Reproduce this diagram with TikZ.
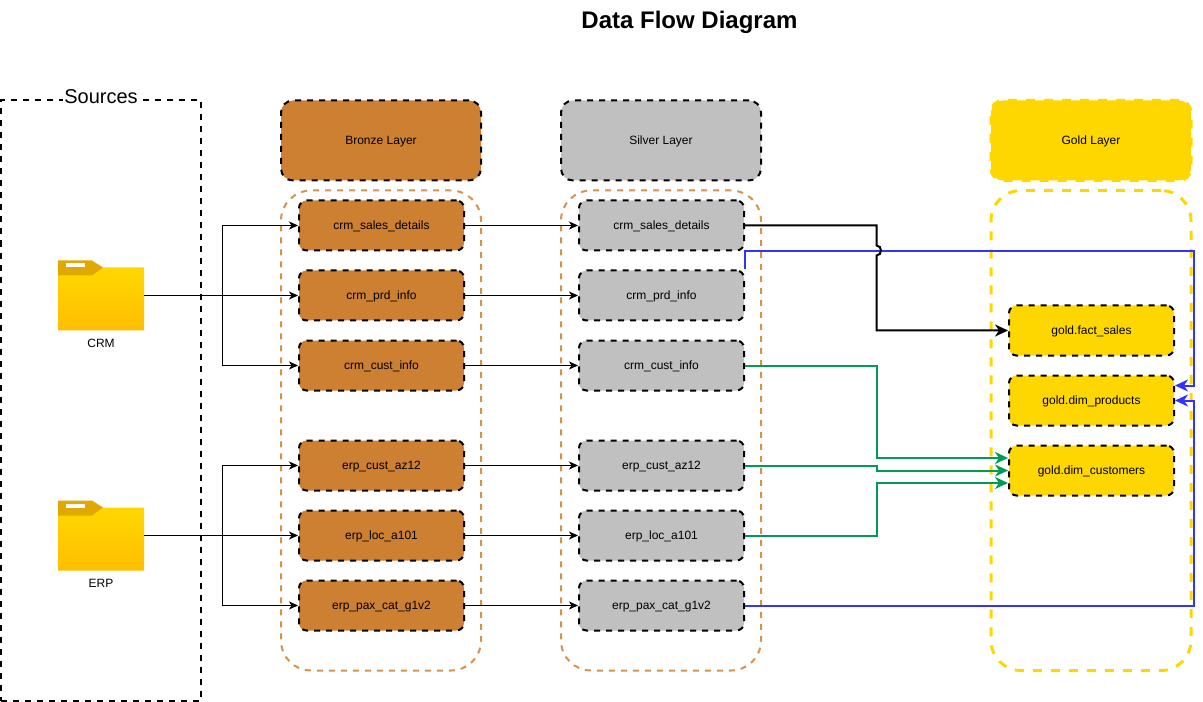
\documentclass[tikz,border=0pt]{standalone}
\usepackage{fontspec}
\setmainfont{Liberation Sans}
\usetikzlibrary{arrows.meta}

\definecolor{bronze}{RGB}{205,127,50}
\definecolor{silver}{RGB}{192,192,192}
\definecolor{gold}{RGB}{255,215,0}
\definecolor{folderdark}{RGB}{224,168,0}
\definecolor{folderlow}{RGB}{255,190,0}
\definecolor{flowgreen}{RGB}{0,155,85}
\definecolor{flowblue}{RGB}{51,51,255}
\def\px{0.75pt}

\tikzset{
  labeltext/.style={font=\fontsize{9}{11}\selectfont, text=black, text height=8pt, text depth=2pt},
  layerbox/.style={labeltext, draw=black, line width=2*\px, dash pattern=on 6*\px off 6*\px,
    rounded corners=7.5*\px, minimum width=165*\px, minimum height=50*\px, inner sep=0pt},
  headbox/.style={labeltext, draw=black, line width=2*\px, dash pattern=on 6*\px off 6*\px,
    rounded corners=12*\px, minimum width=200*\px, minimum height=80*\px, inner sep=0pt},
  groupbox/.style={line width=2*\px, dash pattern=on 6*\px off 6*\px,
    rounded corners=30*\px, minimum width=200*\px, minimum height=480*\px, inner sep=0pt},
  thinflow/.style={line width=1*\px, -{Stealth[length=9*\px, width=8*\px, inset=2.5*\px]}},
  thickflow/.style={line width=2*\px, -{Stealth[length=13*\px, width=12*\px, inset=4*\px]}},
  folderbox/.style={minimum width=86*\px, minimum height=70*\px, inner sep=0pt}
}

\begin{document}
\begin{tikzpicture}[x=0.75pt, y=-0.75pt]
  \useasboundingbox (0,0) rectangle (1203,702);

  % Title
  \node[font=\fontsize{18}{22}\bfseries\selectfont] (title) at (689.5,22.5) {Data Flow Diagram};

  % Sources frame
  \node[draw=black, line width=2*\px, dash pattern=on 6*\px off 6*\px, inner sep=0pt,
    minimum width=200*\px, minimum height=600*\px] (sources) at (101,400.5) {};
  \node[fill=white, inner sep=1pt, font=\fontsize{15}{18}\selectfont] (sourceslabel) at (101,97) {Sources};

  % Groups behind the tables
  \node[groupbox, draw=bronze!85!white] (bronzegroup) at (381,430.5) {};
  \node[groupbox, draw=bronze!85!white] (silvergroup) at (661,430.5) {};
  \node[groupbox, draw=gold, line width=3*\px, dash pattern=on 9*\px off 9*\px] (goldgroup) at (1091,430.5) {};

  % Layer headers
  \node[headbox, fill=bronze] (bronzehead) at (381,140.5) {Bronze Layer};
  \node[headbox, fill=silver] (silverhead) at (661,140.5) {Silver Layer};
  \node[headbox, fill=gold, draw=gold, line width=3*\px, dash pattern=on 9*\px off 9*\px] (goldhead) at (1091,140.5) {Gold Layer};

  % Source folders
  \foreach \name/\fy/\lab in {crmfolder/295.5/CRM, erpfolder/535.5/ERP} {
    \node[folderbox] (\name) at (101,\fy) {};
    \shade[top color=gold, bottom color=folderlow, rounded corners=0.5pt]
      (58,\fy-28) rectangle (144,\fy+35);
    \fill[folderdark] (58,\fy-35) -- (92,\fy-35) -- (103,\fy-28) -- (92,\fy-20) -- (58,\fy-20) -- cycle;
    \fill[white] (65.5,\fy-32) rectangle (85,\fy-28);
    \node[labeltext] (\name label) at (101,\fy+48) {\lab};
  }

  % Bronze and silver tables
  \foreach \i/\lab/\y in {1/crm\_sales\_details/225.5, 2/crm\_prd\_info/295.5, 3/crm\_cust\_info/365.5,
      4/erp\_cust\_az12/465.5, 5/erp\_loc\_a101/535.5, 6/erp\_pax\_cat\_g1v2/605.5} {
    \node[layerbox, fill=bronze] (bz\i) at (381.5,\y) {\lab};
    \node[layerbox, fill=silver] (sv\i) at (661.5,\y) {\lab};
    \draw[thinflow] (bz\i) -- (sv\i);
  }

  % Gold tables
  \node[layerbox, fill=gold] (factsales) at (1091.5,330.5) {gold.fact\_sales};
  \node[layerbox, fill=gold] (dimproducts) at (1091.5,400.5) {gold.dim\_products};
  \node[layerbox, fill=gold] (dimcustomers) at (1091.5,470.5) {gold.dim\_customers};

  % Folders to bronze
  \draw[thinflow] (crmfolder) -- (bz2);
  \draw[thinflow] (crmfolder.east) -- ++(78,0) |- (bz1.west);
  \draw[thinflow] (crmfolder.east) -- ++(78,0) |- (bz3.west);
  \draw[thinflow] (erpfolder) -- (bz5);
  \draw[thinflow] (erpfolder.east) -- ++(78,0) |- (bz4.west);
  \draw[thinflow] (erpfolder.east) -- ++(78,0) |- (bz6.west);

  % Blue links
  \draw[thickflow, flowblue] (sv2.north east) |- (1193.5,251) -- (1193.5,385.5) -- (dimproducts.east |- 0,385.5);
  \draw[thickflow, flowblue] (sv6.east) -- (1193.5,605.5) -- (1193.5,400.5) -- (dimproducts.east);

  % Silver to gold, with a jump over the blue line
  \draw[thickflow] (sv1.east) -- (876.5,225.5) -- (876.5,245.5)
    .. controls (882.5,245.5) and (882.5,255.5) .. (876.5,255.5) -- (876.5,330.5) -- (factsales.west);
  \draw[thickflow, flowgreen] (sv3.east) -- (876.5,365.5) -- (876.5,458) -- (dimcustomers.west |- 0,458);
  \draw[thickflow, flowgreen] (sv4.east) -- (876.5,465.5) -- (876.5,470.5) -- (dimcustomers.west);
  \draw[thickflow, flowgreen] (sv5.east) -- (876.5,535.5) -- (876.5,483) -- (dimcustomers.west |- 0,483);
\end{tikzpicture}
\end{document}
